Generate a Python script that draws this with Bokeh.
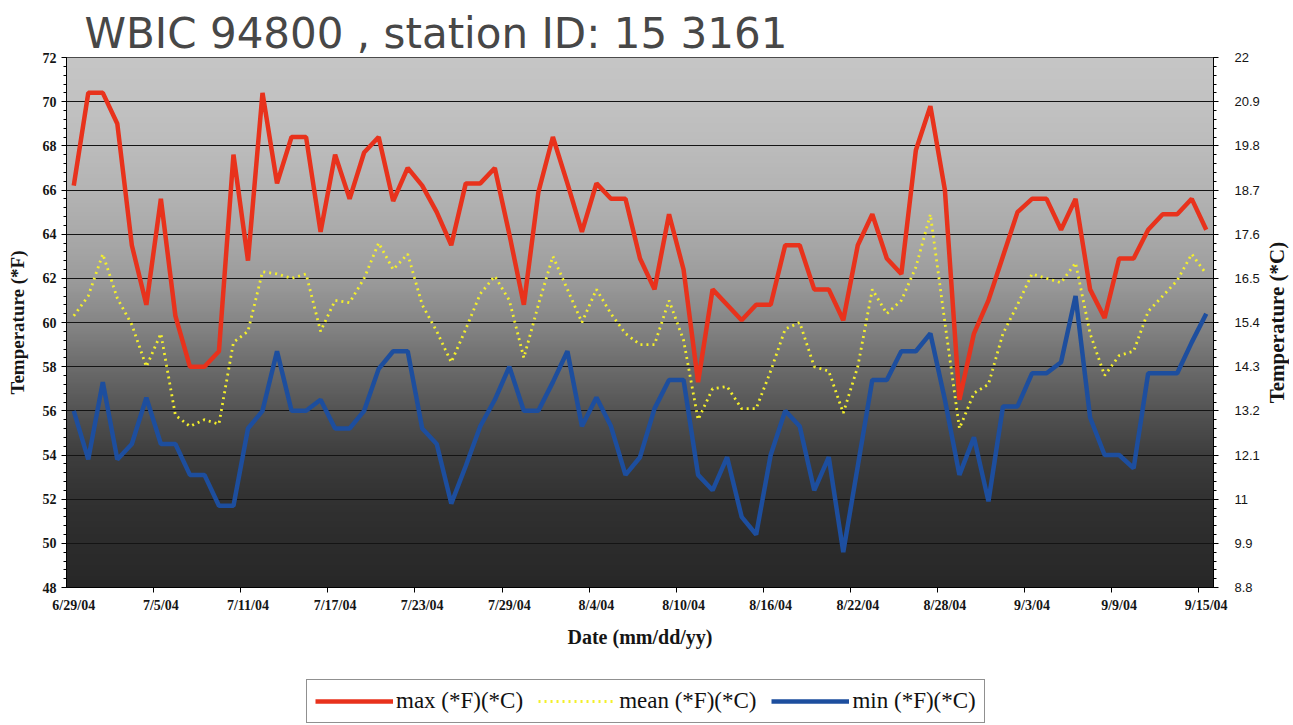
import numpy as np
from bokeh.plotting import figure
from bokeh.layouts import column, row
from bokeh.models import (Range1d, LinearAxis, FixedTicker, CustomJSTickFormatter,
                          Legend, LegendItem, ColumnDataSource, Title)
from bokeh.embed import file_html
from bokeh.resources import INLINE

# ---------------- data ----------------
x_tick_labels = ["6/29/04", "7/5/04", "7/11/04", "7/17/04", "7/23/04", "7/29/04", "8/4/04",
                 "8/10/04", "8/16/04", "8/22/04", "8/28/04", "9/3/04", "9/9/04", "9/15/04"]
n_days = 79  # 6/29/04 .. 9/15/04, daily

max_f = [66.2, 70.4, 70.4, 69.0, 63.5, 60.8, 65.6, 60.3, 58.0, 58.0,
         58.7, 67.6, 62.8, 70.4, 66.3, 68.4, 68.4, 64.1, 67.6, 65.6,
         67.7, 68.4, 65.5, 67.0, 66.2, 65.0, 63.5, 66.3, 66.3, 67.0,
         64.0, 60.8, 65.9, 68.4, 66.3, 64.1, 66.3, 65.6, 65.6, 62.9,
         61.5, 64.9, 62.4, 57.3, 61.5, 60.8, 60.1, 60.8, 60.8, 63.5,
         63.5, 61.5, 61.5, 60.1, 63.5, 64.9, 62.9, 62.2, 67.8, 69.8,
         66.0, 56.5, 59.5, 61.0, 63.0, 65.0, 65.6, 65.6, 64.2, 65.6,
         61.5, 60.2, 62.9, 62.9, 64.2, 64.9, 64.9, 65.6, 64.2]

mean_f = [60.3, 61.2, 63.1, 61.1, 59.9, 58.0, 59.5, 55.8, 55.3, 55.6,
          55.4, 59.1, 59.6, 62.3, 62.2, 62.0, 62.2, 59.6, 61.0, 60.9,
          62.0, 63.6, 62.4, 63.1, 60.8, 59.6, 58.2, 59.7, 61.3, 62.1,
          61.0, 58.4, 60.8, 63.0, 61.5, 60.0, 61.5, 60.4, 59.5, 59.0,
          59.0, 61.0, 59.2, 55.6, 57.0, 57.1, 56.1, 56.1, 57.8, 59.7,
          60.0, 58.0, 57.8, 55.9, 58.0, 61.5, 60.4, 61.0, 62.5, 64.9,
          60.0, 55.2, 56.8, 57.2, 59.5, 60.8, 62.2, 62.0, 61.8, 62.7,
          59.5, 57.6, 58.5, 58.7, 60.5, 61.2, 61.9, 63.1, 62.2]

min_f = [56.0, 53.8, 57.3, 53.8, 54.5, 56.6, 54.5, 54.5, 53.1, 53.1,
         51.7, 51.7, 55.2, 56.0, 58.7, 56.0, 56.0, 56.5, 55.2, 55.2,
         56.0, 57.9, 58.7, 58.7, 55.2, 54.5, 51.8, 53.5, 55.3, 56.5,
         58.0, 56.0, 56.0, 57.3, 58.7, 55.3, 56.6, 55.3, 53.1, 53.9,
         56.1, 57.4, 57.4, 53.1, 52.4, 53.9, 51.2, 50.4, 54.0, 56.0,
         55.3, 52.4, 53.9, 49.6, 53.5, 57.4, 57.4, 58.7, 58.7, 59.5,
         56.5, 53.1, 54.8, 51.9, 56.2, 56.2, 57.7, 57.7, 58.2, 61.2,
         55.7, 54.0, 54.0, 53.4, 57.7, 57.7, 57.7, 59.1, 60.4]

f_ticks = [48, 50, 52, 54, 56, 58, 60, 62, 64, 66, 68, 70, 72]
c_ticks = [8.8, 9.9, 11, 12.1, 13.2, 14.3, 15.4, 16.5, 17.6, 18.7, 19.8, 20.9, 22]

day = list(range(n_days))
src = ColumnDataSource(dict(day=day, max_f=max_f, mean_f=mean_f, min_f=min_f))

MAX_STYLE = dict(line_color="#e8321c", line_width=4.5)
MEAN_STYLE = dict(line_color="#f4f02a", line_width=2.8, line_dash="2 4")
MIN_STYLE = dict(line_color="#1d4e9e", line_width=4.5)

# ---------------- main figure ----------------
p = figure(frame_width=1147, frame_height=530,
           x_range=Range1d(-0.5, n_days - 0.5), y_range=Range1d(48, 72),
           output_backend="svg", toolbar_location=None,
           min_border_left=66, min_border_right=48, min_border_top=57, min_border_bottom=73,
           background_fill_color="white", border_fill_color="white")

# handwritten-like title
p.title.text = "WBIC 94800 , station ID: 15 3161"
p.title.text_font = "DejaVu Sans"
p.title.text_font_style = "normal"
p.title.text_font_size = "42px"
p.title.text_color = "#474747"
p.title.align = "left"
p.title.offset = 18
p.title.standoff = 0
p.title.text_line_height = 0.8

# background gradient (decoration)
stops_v = [48, 50, 52, 54, 56, 58, 60, 62, 64, 66, 68, 70, 72]
stops_g = [40, 44, 50, 62, 84, 108, 134, 156, 170, 180, 188, 194, 198]
rows = 240
vals = np.linspace(48, 72, rows)
g = np.interp(vals, stops_v, stops_g).astype(np.uint32)
img = np.empty((rows, 1), dtype=np.uint32)
view = img.view(dtype=np.uint8).reshape((rows, 1, 4))
view[:, 0, 0] = g
view[:, 0, 1] = g
view[:, 0, 2] = g
view[:, 0, 3] = 255
p.image_rgba(image=[img], x=-0.5, y=48, dw=n_days, dh=24, level="image")

p.xgrid.visible = False
p.ygrid.ticker = FixedTicker(ticks=f_ticks)
p.ygrid.grid_line_color = "#141414"
p.ygrid.grid_line_width = 1
p.ygrid.level = "underlay"
p.outline_line_color = "#222222"
p.outline_line_width = 1

# series
p.line("day", "max_f", source=src, **MAX_STYLE)
p.line("day", "mean_f", source=src, **MEAN_STYLE)
p.line("day", "min_f", source=src, **MIN_STYLE)

# x axis
major_x = [6 * k for k in range(len(x_tick_labels))]
minor_x = [6 * k - 0.5 for k in range(1, len(x_tick_labels))]
xa = p.xaxis[0]
xa.ticker = FixedTicker(ticks=major_x, minor_ticks=minor_x)
xa.major_label_overrides = {t: lab for t, lab in zip(major_x, x_tick_labels)}
xa.major_tick_out = 0
xa.major_tick_in = 0
xa.minor_tick_out = 5
xa.minor_tick_in = 0
xa.minor_tick_line_color = "black"
xa.axis_line_color = "black"
xa.major_label_standoff = 5
xa.major_label_text_font = "Liberation Serif"
xa.major_label_text_font_style = "bold"
xa.major_label_text_font_size = "14px"
xa.major_label_text_color = "#151515"
xa.axis_label = "Date (mm/dd/yy)"
xa.axis_label_text_font = "Liberation Serif"
xa.axis_label_text_font_style = "bold"
xa.axis_label_text_font_size = "20px"
xa.axis_label_text_color = "#151515"
xa.axis_label_standoff = 10

# left axis (F)
ya = p.yaxis[0]
ya.ticker = FixedTicker(ticks=f_ticks, minor_ticks=list(np.round(np.arange(48, 72.01, 0.4), 2)))
ya.major_tick_out = 5
ya.major_tick_in = 0
ya.minor_tick_out = 3
ya.minor_tick_in = 0
ya.axis_line_color = "black"
ya.major_label_standoff = 5
ya.major_label_text_font = "Liberation Serif"
ya.major_label_text_font_style = "bold"
ya.major_label_text_font_size = "14px"
ya.major_label_text_color = "#151515"
ya.axis_label = "Temperature (*F)"
ya.axis_label_text_font = "Liberation Serif"
ya.axis_label_text_font_style = "bold"
ya.axis_label_text_font_size = "19px"
ya.axis_label_text_color = "#151515"
ya.axis_label_standoff = 12

# right axis (C): ticks & labels
p.extra_y_ranges = {"c": Range1d(8.8, 22)}
ra = LinearAxis(y_range_name="c")
ra.ticker = FixedTicker(ticks=c_ticks, minor_ticks=list(np.round(np.arange(8.8, 22.01, 0.22), 3)))
ra.formatter = CustomJSTickFormatter(code="return (Math.round(tick*10)/10).toString();")
ra.major_tick_out = 5
ra.major_tick_in = 0
ra.minor_tick_out = 3
ra.minor_tick_in = 0
ra.axis_line_color = "black"
ra.major_label_standoff = 16
ra.major_label_text_font = "Liberation Sans"
ra.major_label_text_font_size = "13px"
ra.major_label_text_color = "#151515"
p.add_layout(ra, "right")

# ---------------- right-side title strip (reads bottom-to-top) ----------------
p3 = figure(frame_width=1, frame_height=530,
            x_axis_location=None, y_axis_location=None,
            output_backend="svg", toolbar_location=None,
            min_border_left=0, min_border_right=0, min_border_top=57, min_border_bottom=73,
            background_fill_color="white", border_fill_color="white")
p3.outline_line_color = None
p3.grid.visible = False
p3.title.visible = False
p3.add_layout(Title(text="Temperature (*C)", align="center",
                    text_font="Liberation Serif", text_font_style="bold",
                    text_font_size="21px", text_color="#151515", standoff=0), "left")

# ---------------- legend strip below the chart ----------------
p2 = figure(frame_width=1147, frame_height=65,
            x_range=p.x_range, y_range=Range1d(0, 1),
            x_axis_location=None, y_axis_location=None,
            output_backend="svg", toolbar_location=None,
            min_border_left=66, min_border_right=76, min_border_top=0, min_border_bottom=0,
            background_fill_color="white", border_fill_color="white")
p2.outline_line_color = None
p2.grid.visible = False
p2.title.visible = False
l_max = p2.line("day", "max_f", source=src, **MAX_STYLE)
l_mean = p2.line("day", "mean_f", source=src, **MEAN_STYLE)
l_min = p2.line("day", "min_f", source=src, **MIN_STYLE)

legend = Legend(items=[LegendItem(label="max (*F)(*C)", renderers=[l_max]),
                       LegendItem(label="mean (*F)(*C)", renderers=[l_mean]),
                       LegendItem(label="min (*F)(*C)", renderers=[l_min])],
                orientation="horizontal", location=(240, 2),
                label_text_font="Liberation Serif", label_text_font_size="23px",
                label_text_color="#111111",
                glyph_width=78, glyph_height=20, label_standoff=3, spacing=15,
                padding=8, margin=0,
                border_line_color="#222222", border_line_width=1.5,
                background_fill_color="white", background_fill_alpha=1.0)
p2.add_layout(legend, "center")

layout = column(row(p, p3, spacing=0), p2, spacing=0)
open("out.html", "w").write(file_html(layout, INLINE))
